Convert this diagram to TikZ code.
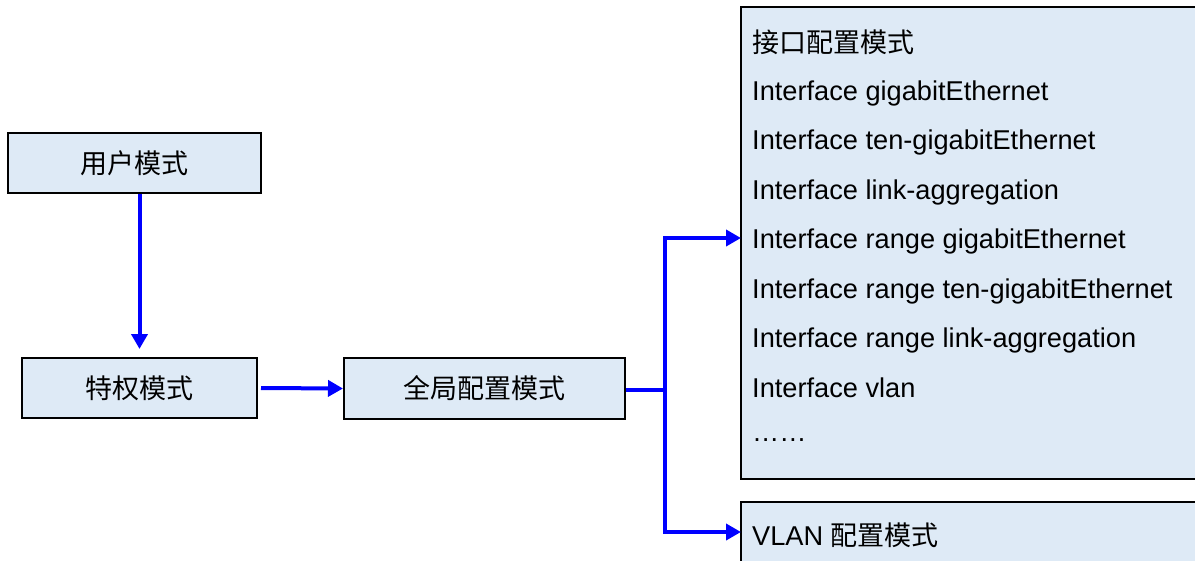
\documentclass[tikz,border=0pt]{standalone}
\usepackage{fontspec}
\setmainfont{Liberation Sans}
\newfontfamily\cjk{Noto Sans CJK SC}
\usetikzlibrary{arrows.meta}
\definecolor{boxfill}{RGB}{222,234,246}
\definecolor{arrblue}{RGB}{0,0,255}
\begin{document}
\begin{tikzpicture}[x=1pt,y=-1pt,
  box/.style={draw=black,line width=2pt,fill=boxfill,inner sep=0pt},
  arr/.style={draw=arrblue,line width=4pt,-{Triangle[length=15pt,width=16pt]}},
  cjktext/.style={font=\cjk\fontsize{27}{30}\selectfont},
  txt/.style={font=\fontsize{27.2}{30}\selectfont,anchor=base west,inner sep=0pt},
  cjkline/.style={font=\cjk\fontsize{27}{30}\selectfont,anchor=base west,inner sep=0pt}]
\useasboundingbox (0,0) rectangle (1195,560);
\clip (0,0) rectangle (1195,560);
% left boxes
\node[box,minimum width=253pt,minimum height=60pt,cjktext] (user) at (134.5,163) {用户模式};
\node[box,minimum width=235pt,minimum height=60pt,cjktext] (priv) at (139.5,388) {特权模式};
\node[box,minimum width=281pt,minimum height=61pt,cjktext] (glob) at (484.5,388.5) {全局配置模式};
% right boxes (cut by the right edge)
\node[box,minimum width=479pt,minimum height=472pt] (iface) at (980.5,243) {};
\node[box,minimum width=479pt,minimum height=68pt] (vlan) at (980.5,536) {};
% texts in interface box
\node[cjkline] (l0) at (752,52) {接口配置模式};
\node[txt] (l1) at (752,100) {Interface gigabitEthernet};
\node[txt] (l2) at (752,149.5) {Interface ten-gigabitEthernet};
\node[txt] (l3) at (752,199) {Interface link-aggregation};
\node[txt] (l4) at (752,248.5) {Interface range gigabitEthernet};
\node[txt] (l5) at (752,298) {Interface range ten-gigabitEthernet};
\node[txt] (l6) at (752,347.5) {Interface range link-aggregation};
\node[txt] (l7) at (752,397) {Interface vlan};
\node[txt] (l8) at (752,441) {……};
\node[txt] (vt) at (752,545) {VLAN {\cjk\fontsize{27}{30}\selectfont 配置模式}};
% connectors
\coordinate (sp) at (665,390);
\coordinate (in1) at (741,238);
\coordinate (in2) at (741,532);
\draw[arr] (user.south -| priv.north) -- ([yshift=8pt]priv.north);
\draw[arr] ([xshift=3pt]priv.east) -- (glob.west);
\draw[arr] (glob.east |- sp) -- (sp) |- (in1);
\draw[arr] (sp) |- (in2);
\end{tikzpicture}
\end{document}
